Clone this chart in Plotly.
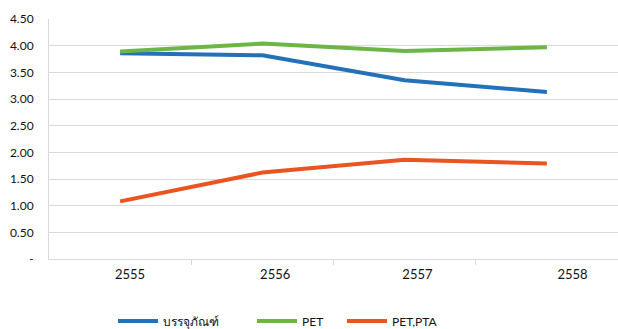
import plotly.graph_objects as go

years = ["2555", "2556", "2557", "2558"]
packaging = [3.86, 3.82, 3.35, 3.13]   # บรรจุภัณฑ์
pet = [3.89, 4.04, 3.90, 3.97]         # PET
pet_pta = [1.08, 1.62, 1.86, 1.79]     # PET,PTA

y_ticks = [0, 0.5, 1.0, 1.5, 2.0, 2.5, 3.0, 3.5, 4.0, 4.5]
y_tick_text = ["-", "0.50", "1.00", "1.50", "2.00", "2.50", "3.00", "3.50", "4.00", "4.50"]

series = [
    ("บรรจุภัณฑ์", packaging, "#2271b9", "legend"),
    ("PET", pet, "#6cb546", "legend2"),
    ("PET,PTA", pet_pta, "#ea5420", "legend3"),
]

xpos = list(range(len(years)))
# year labels sit slightly right of each category centre
label_pos = [0.07, 1.09, 2.09, 3.18]

fig = go.Figure()
for name, vals, color, leg in series:
    fig.add_trace(go.Scatter(
        x=xpos, y=vals, name=name, mode="lines", legend=leg,
        line=dict(color=color, width=4),
    ))

font = dict(family="Lato, Noto Sans, sans-serif", size=12, color="#111111")

def legend_at(xpx):
    return dict(orientation="h", xref="container", yref="container",
                x=xpx / 618, xanchor="left", y=(329 - 321) / 329, yanchor="middle",
                font=dict(size=12), itemwidth=40, bgcolor="rgba(0,0,0,0)")

fig.update_layout(
    width=618, height=329,
    margin=dict(l=49, r=0, t=19, b=70, autoexpand=False),
    paper_bgcolor="white", plot_bgcolor="white",
    font=font,
    showlegend=True,
    legend=legend_at(113),
    legend2=legend_at(252),
    legend3=legend_at(342),
    xaxis=dict(
        range=[-0.5, 3.5], showgrid=False, zeroline=False,
        tickvals=[0.5, 1.5, 2.5], ticktext=["", "", ""],
        ticks="outside", ticklen=5, tickcolor="#d9d9d9",
        showline=True, linecolor="#d9d9d9", linewidth=1,
    ),
    xaxis2=dict(
        range=[-0.5, 3.5], overlaying="x", side="bottom", anchor="y",
        tickvals=label_pos, ticktext=years, ticks="", showgrid=False,
        zeroline=False, showline=False, ticklabelstandoff=6,
        tickfont=dict(size=13),
    ),
    yaxis=dict(
        range=[0, 4.5], tickvals=y_ticks, ticktext=y_tick_text,
        showgrid=True, gridcolor="#d9d9d9", gridwidth=1, zeroline=False,
        showline=True, linecolor="#d9d9d9", ticks="", ticklabelstandoff=12,
        tickfont=dict(size=12),
    ),
)
# invisible trace to activate the label axis
fig.add_trace(go.Scatter(x=[0], y=[None], xaxis="x2", showlegend=False, hoverinfo="skip"))

fig.write_html("out.html")
